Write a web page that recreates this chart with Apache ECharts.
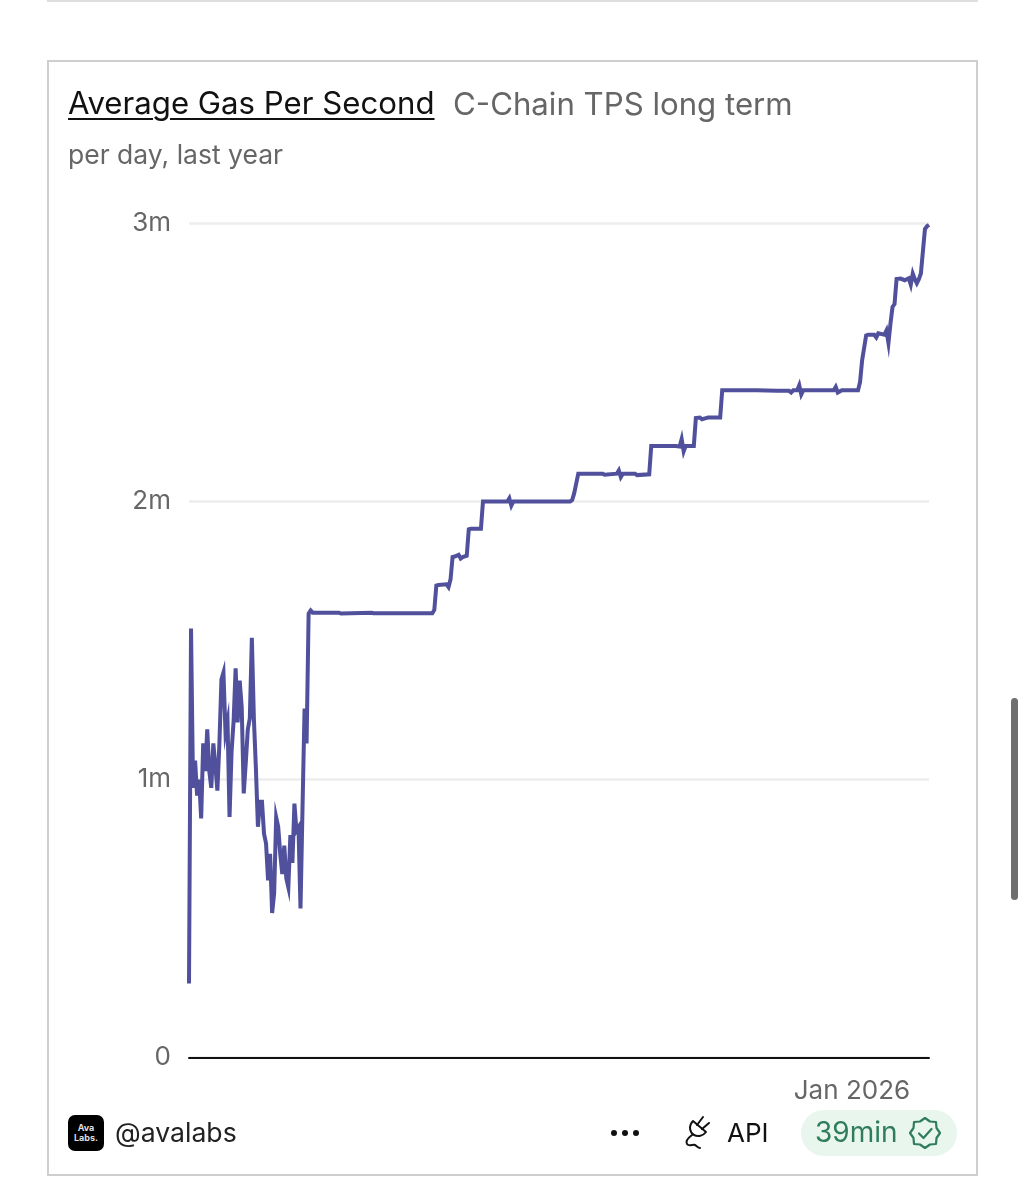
<!DOCTYPE html>
<html>
<head>
<meta charset="utf-8">
<title>Average Gas Per Second</title>
<script src="https://cdn.jsdelivr.net/npm/echarts@6/dist/echarts.min.js"></script>
<style>
  html, body { margin: 0; padding: 0; background: #fff; }
  body { width: 1025px; height: 1200px; position: relative; overflow: hidden; font-family: Inter, "Noto Sans", sans-serif; }
  #chart { position: absolute; left: 0; top: 0; width: 1025px; height: 1200px; }
  .abs { position: absolute; white-space: nowrap; line-height: 1; }
  .top-strip { left: 47px; top: 0; width: 931px; height: 2px; background: #dedede; }
  .card { left: 47px; top: 60px; width: 927px; height: 1112px; border: 2px solid #cfcfcf; }
  .title { left: 68px; top: 88px; font-size: 31.2px; color: #111; text-decoration: underline; text-underline-offset: 4px; text-decoration-thickness: 2px; }
  .subtitle { left: 453px; top: 89px; font-size: 31.2px; color: #666; }
  .note { left: 68px; top: 141px; font-size: 26.5px; color: #666; }
  .logo { left: 68px; top: 1115px; width: 36px; height: 36px; border-radius: 7px; background: #000; color: #ddd; font-size: 9px; font-weight: 700; line-height: 10px; text-align: center; padding-top: 8px; box-sizing: border-box; }
  .handle { left: 115px; top: 1119px; font-size: 26.6px; color: #222; }
  .dots { left: 610px; top: 1127px; }
  .plug { left: 682px; top: 1114px; }
  .api { left: 727px; top: 1120px; font-size: 26px; color: #111; }
  .pill { left: 801px; top: 1110px; width: 156px; height: 46px; border-radius: 23px; background: #e9f6ee; }
  .age { left: 815px; top: 1118px; font-size: 28px; color: #2f7d5a; }
  .badge { left: 907px; top: 1115px; }
  .scroll { left: 1011px; top: 698px; width: 7px; height: 202px; border-radius: 4px; background: #6f6f6f; }
</style>
</head>
<body>
<div id="chart"></div>
<div class="abs top-strip"></div>
<div class="abs card"></div>
<div class="abs title">Average Gas Per Second</div>
<div class="abs subtitle">C-Chain TPS long term</div>
<div class="abs note">per day, last year</div>
<div class="abs logo">Ava<br>Labs.</div>
<div class="abs handle">@avalabs</div>
<svg class="abs dots" width="32" height="12"><circle cx="4" cy="6" r="3" fill="#111"/><circle cx="15" cy="6" r="3" fill="#111"/><circle cx="26" cy="6" r="3" fill="#111"/></svg>
<svg class="abs plug" width="30" height="36" viewBox="0 0 30 36" fill="none" stroke="#111" stroke-width="2" stroke-linecap="round" stroke-linejoin="round">
  <path d="M11 7l13 11c-3 4-8 5-12 3S6 12 11 7z"/><path d="M15 11l6-8M20 15l7-6"/><path d="M10 21c-4 3-7 6-5 9s6 0 8 1 3 3 5 3"/>
</svg>
<div class="abs api">API</div>
<div class="abs pill"></div>
<div class="abs age">39min</div>
<svg class="abs badge" width="36" height="36" viewBox="0 0 36 36" fill="none" stroke="#2f7d5a" stroke-width="2.2" stroke-linejoin="round" stroke-linecap="round">
  <path d="M18 3l5 3.5 6 .5.5 6 3.500 5-3.500 5-.5 6-6 .5-5 3.500-5-3.500-6-.5-.5-6L3 18l3.500-5 .5-6 6-.5z"/><path d="M12 18.500l4.500 4.500 8-9"/>
</svg>
<div class="abs scroll"></div>
<script>
  const X_TICK_DAYS = [327];
  const X_TICK_LABELS = { 327: 'Jan 2026' };
  const Y_TICKS = { 0: '0', 1000000: '1m', 2000000: '2m', 3000000: '3m' };

  // day number within the year shown
  const gasDays = [
    0, 1, 2, 3, 4, 5, 6, 7, 8, 9,
    10, 11, 12, 13, 14, 15, 16, 17, 18, 19,
    20, 21, 22, 23, 24, 25, 26, 27, 28, 29,
    30, 31, 32, 33, 34, 35, 36, 37, 38, 39,
    40, 41, 42, 43, 44, 45, 46, 47, 48, 49,
    50, 51, 52, 53, 54, 55, 56, 57, 58, 59,
    60, 61, 74, 75, 90, 91, 120, 121, 122, 123,
    127, 128, 129, 130, 131, 133, 134, 135, 137, 138,
    139, 144, 145, 157, 158, 159, 160, 188, 189, 190,
    192, 204, 205, 211, 212, 213, 214, 220, 221, 227,
    228, 240, 242, 243, 244, 245, 249, 250, 252, 253,
    255, 256, 262, 263, 280, 290, 296, 297, 298, 300,
    301, 302, 303, 318, 319, 320, 322, 330, 331, 332,
    334, 335, 338, 339, 340, 343, 344, 345, 346, 347,
    348, 349, 351, 353, 355, 356, 357, 358, 359, 360,
    361, 362, 363, 364, 365
  ];
  const gasValues = [
    266000, 1543000, 970000, 1068000, 942000, 1000000, 860000, 1130000, 1030000, 1180000,
    1030000, 970000, 1130000, 1050000, 960000, 1130000, 1360000, 1385000, 1170000, 1210000,
    865000, 1100000, 1210000, 1400000, 1205000, 1356000, 1260000, 950000, 1060000, 1180000,
    1220000, 1510000, 1220000, 1040000, 830000, 920000, 920000, 805000, 770000, 637000,
    733000, 520000, 590000, 864000, 830000, 733000, 660000, 762000, 644000, 612000,
    800000, 700000, 913000, 816000, 828000, 536000, 900000, 1255000, 1130000, 1597000,
    1608000, 1600000, 1600000, 1597000, 1600000, 1598000, 1598000, 1610000, 1698000, 1700000,
    1702000, 1692000, 1720000, 1800000, 1802000, 1808000, 1795000, 1800000, 1805000, 1900000,
    1902000, 1902000, 2000000, 2000000, 2012000, 1985000, 2000000, 2000000, 2005000, 2030000,
    2100000, 2100000, 2096000, 2100000, 2112000, 2088000, 2100000, 2100000, 2095000, 2098000,
    2200000, 2200000, 2198000, 2225000, 2180000, 2200000, 2200000, 2300000, 2302000, 2296000,
    2300000, 2302000, 2302000, 2400000, 2400000, 2398000, 2398000, 2392000, 2400000, 2400000,
    2418000, 2385000, 2400000, 2400000, 2412000, 2392000, 2400000, 2400000, 2430000, 2507000,
    2597000, 2600000, 2600000, 2590000, 2605000, 2600000, 2615000, 2570000, 2640000, 2700000,
    2710000, 2800000, 2802000, 2796000, 2803000, 2780000, 2820000, 2800000, 2785000, 2800000,
    2820000, 2900000, 2980000, 2990000, 2995000
  ];

  const chart = echarts.init(document.getElementById('chart'), null, { renderer: 'canvas' });

  chart.setOption({
    animation: false,
    grid: { left: 189, right: 96, top: 223.5, bottom: 142.5, containLabel: false },
    xAxis: {
      type: 'value',
      min: 0,
      max: 365,
      axisLine: { show: true, onZero: false, lineStyle: { color: '#111', width: 2 } },
      axisTick: { show: false },
      splitLine: { show: false },
      axisLabel: {
        customValues: X_TICK_DAYS,
        formatter: (value) => X_TICK_LABELS[value] || '',
        color: '#666',
        fontFamily: 'Inter',
        fontSize: 26,
        margin: 21
      }
    },
    yAxis: {
      type: 'value',
      min: 0,
      max: 3000000,
      interval: 1000000,
      axisLine: { show: false },
      axisTick: { show: false },
      splitLine: { lineStyle: { color: '#ededed', width: 2.5 } },
      axisLabel: {
        formatter: (value) => Y_TICKS[value],
        color: '#666',
        fontFamily: 'Inter',
        fontSize: 26,
        margin: 18
      }
    },
    series: [{
      type: 'line',
      data: gasDays.map((day, i) => [day, gasValues[i]]),
      showSymbol: false,
      clip: false,
      lineStyle: { color: '#50509c', width: 4, join: 'miter' }
    }]
  });
</script>
</body>
</html>
